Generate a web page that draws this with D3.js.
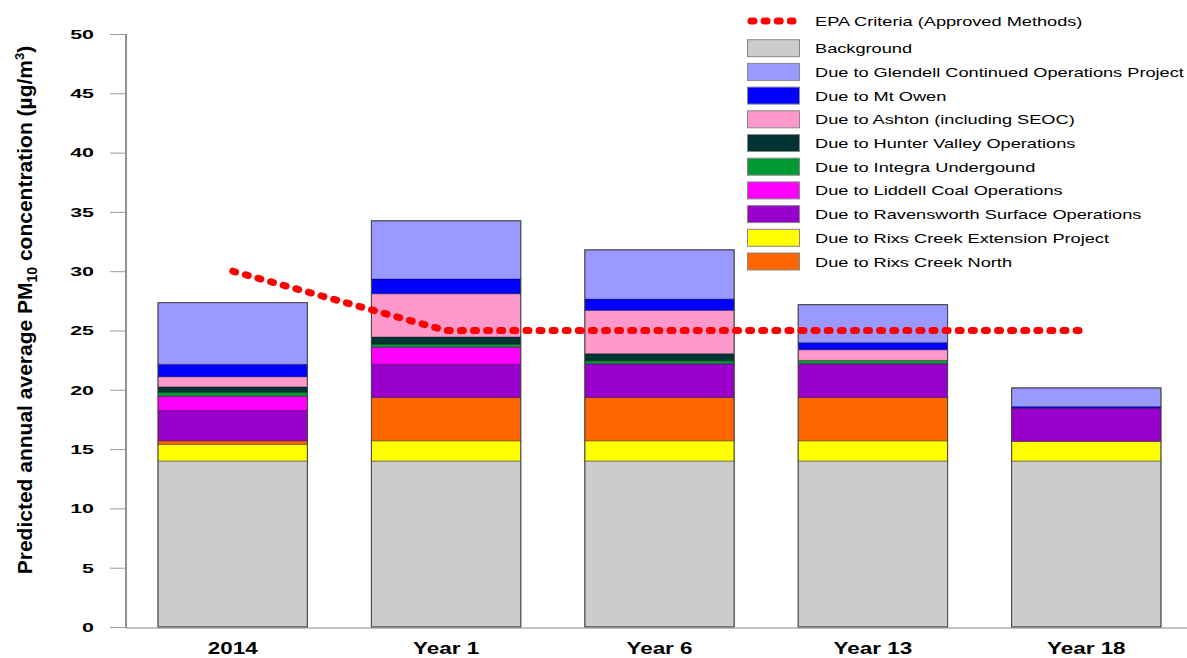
<!DOCTYPE html>
<html>
<head>
<meta charset="utf-8">
<script src="https://cdn.jsdelivr.net/npm/d3@7"></script>
<style>
  html, body { margin: 0; padding: 0; background: #ffffff; }
  svg { display: block; }
</style>
</head>
<body>
<svg id="chart" width="1187" height="658"></svg>
<script>
// ---- data ----
const categories = ["2014", "Year 1", "Year 6", "Year 13", "Year 18"];
const background     = [14, 14, 14, 14, 14];
const rixsCreekExt   = [1.4, 1.7, 1.7, 1.7, 1.65];
const rixsCreekNorth = [0.3, 3.65, 3.65, 3.65, 0];
const ravensworth    = [2.55, 2.8, 2.85, 2.85, 2.8];
const liddell        = [1.2, 1.45, 0, 0, 0];
const integra        = [0.35, 0.25, 0.25, 0.28, 0];
const hunterValley   = [0.45, 0.6, 0.6, 0, 0];
const ashton         = [0.85, 3.65, 3.65, 0.9, 0];
const mtOwen         = [1.05, 1.25, 0.95, 0.6, 0.14];
const glendell       = [5.2, 4.9, 4.15, 3.2, 1.57];
const epaCriteria    = [30, 25, 25, 25, 25];
const yTicks = [0, 5, 10, 15, 20, 25, 30, 35, 40, 45, 50];

const seriesStack = [
  { key: "Background", values: background, color: "#cccccc" },
  { key: "Due to Rixs Creek Extension Project", values: rixsCreekExt, color: "#ffff00" },
  { key: "Due to Rixs Creek North", values: rixsCreekNorth, color: "#ff6600" },
  { key: "Due to Ravensworth Surface Operations", values: ravensworth, color: "#9900cc" },
  { key: "Due to Liddell Coal Operations", values: liddell, color: "#ff00ff" },
  { key: "Due to Integra Undergound", values: integra, color: "#009933" },
  { key: "Due to Hunter Valley Operations", values: hunterValley, color: "#003333" },
  { key: "Due to Ashton (including SEOC)", values: ashton, color: "#ff99cc" },
  { key: "Due to Mt Owen", values: mtOwen, color: "#0000ff" },
  { key: "Due to Glendell Continued Operations Project", values: glendell, color: "#9999ff" }
];
const legendOrder = [
  "Background",
  "Due to Glendell Continued Operations Project",
  "Due to Mt Owen",
  "Due to Ashton (including SEOC)",
  "Due to Hunter Valley Operations",
  "Due to Integra Undergound",
  "Due to Liddell Coal Operations",
  "Due to Ravensworth Surface Operations",
  "Due to Rixs Creek Extension Project",
  "Due to Rixs Creek North"
];

// ---- layout ----
const svg = d3.select("#chart");
const plotLeft = 126, plotRight = 1193, plotTop = 34, plotBottom = 627;
const FONT = "'Liberation Sans', Arial, Helvetica, sans-serif";

const x = d3.scaleBand().domain(categories).range([plotLeft, plotRight])
  .paddingInner(0.3).paddingOuter(0.15);
const y = d3.scaleLinear().domain([0, 50]).range([plotBottom, plotTop]);

// table for stacking
const table = categories.map((c, i) => {
  const row = { cat: c };
  seriesStack.forEach(s => row[s.key] = s.values[i]);
  return row;
});
const stack = d3.stack().keys(seriesStack.map(s => s.key));
const stacked = stack(table);
const colorOf = {};
seriesStack.forEach(s => colorOf[s.key] = s.color);

// bars
const layers = svg.append("g").selectAll("g").data(stacked).join("g")
  .attr("fill", d => colorOf[d.key]);
layers.selectAll("rect").data(d => d.filter(p => p[1] - p[0] > 0)).join("rect")
  .attr("x", d => x(d.data.cat))
  .attr("width", x.bandwidth())
  .attr("y", d => y(d[1]))
  .attr("height", d => y(d[0]) - y(d[1]))
  .attr("stroke", "rgba(0,0,0,0.35)")
  .attr("stroke-width", 1);

// bar outline
const totals = categories.map((c, i) => d3.sum(seriesStack, s => s.values[i]));
svg.append("g").selectAll("rect").data(categories).join("rect")
  .attr("x", c => x(c))
  .attr("width", x.bandwidth())
  .attr("y", (c, i) => y(totals[i]))
  .attr("height", (c, i) => y(0) - y(totals[i]))
  .attr("fill", "none")
  .attr("stroke", "#444")
  .attr("stroke-width", 1);

// y axis
const yAxis = d3.axisLeft(y).tickValues(yTicks).tickSize(16).tickFormat(d3.format("d"));
const yg = svg.append("g").attr("transform", `translate(${plotLeft},0)`).call(yAxis);
yg.select(".domain").attr("stroke", "#222").attr("d", `M0,${plotTop}V${plotBottom + 1}`);
yg.selectAll(".tick line").attr("stroke", "#999");
yg.selectAll(".tick text")
  .attr("x", 0).attr("dy", null)
  .attr("text-anchor", "end")
  .attr("dominant-baseline", "central")
  .attr("transform", "translate(-32,0) scale(1.65,1)")
  .attr("font-family", FONT).attr("font-weight", "bold").attr("font-size", 13).attr("fill", "#000");

// x axis
const xAxis = d3.axisBottom(x).tickSize(0);
const xg = svg.append("g").attr("transform", `translate(0,${plotBottom + 1})`).call(xAxis);
xg.select(".domain").attr("stroke", "#888").attr("d", `M${plotLeft},0H1187`);
xg.selectAll(".tick text")
  .attr("y", 0).attr("dy", null)
  .attr("transform", "translate(0,26) scale(1.36,1)")
  .attr("font-family", FONT).attr("font-weight", "bold").attr("font-size", 16.5).attr("fill", "#000");

// EPA criteria line
const line = d3.line().x((d, i) => x(categories[i]) + x.bandwidth() / 2).y(d => y(d));
svg.append("path").datum(epaCriteria)
  .attr("d", line)
  .attr("fill", "none")
  .attr("stroke", "#ff0000")
  .attr("stroke-width", 7)
  .attr("stroke-linecap", "round")
  .attr("stroke-dasharray", "3 10.1");

// y title
const yt = svg.append("text")
  .attr("transform", "translate(32,310) rotate(-90)")
  .attr("text-anchor", "middle")
  .attr("font-family", "'Liberation Sans Narrow', 'Arial Narrow', " + FONT)
  .attr("font-weight", "bold")
  .attr("font-size", 21)
  .attr("fill", "#000");
yt.append("tspan").text("Predicted annual average PM");
yt.append("tspan").attr("font-size", 14).attr("dy", 5).text("10");
yt.append("tspan").attr("dy", -5).text(" concentration (\u00b5g/m");
yt.append("tspan").attr("font-size", 13).attr("dy", -8).text("3");
yt.append("tspan").attr("dy", 8).text(")");

// legend
const lg = svg.append("g");
const rowY0 = 21, rowStep = 23.7;
// EPA row
lg.append("line")
  .attr("x1", 751).attr("x2", 793).attr("y1", rowY0).attr("y2", rowY0)
  .attr("stroke", "#ff0000").attr("stroke-width", 7)
  .attr("stroke-linecap", "round").attr("stroke-dasharray", "3 10.1");
lg.append("text")
  .attr("transform", `translate(815,${rowY0 + 5}) scale(1.4,1)`)
  .attr("font-family", FONT).attr("font-size", 13).attr("fill", "#000")
  .text("EPA Criteria (Approved Methods)");
legendOrder.forEach((k, i) => {
  const cy = rowY0 + rowStep * (i + 1) + 3.5;
  lg.append("rect")
    .attr("x", 747.5).attr("y", cy - 8.5).attr("width", 52).attr("height", 17)
    .attr("fill", colorOf[k]).attr("stroke", "#888").attr("stroke-width", 1);
  lg.append("text")
    .attr("transform", `translate(815,${cy + 5}) scale(1.4,1)`)
    .attr("font-family", FONT).attr("font-size", 13).attr("fill", "#000")
    .text(k);
});
</script>
</body>
</html>
